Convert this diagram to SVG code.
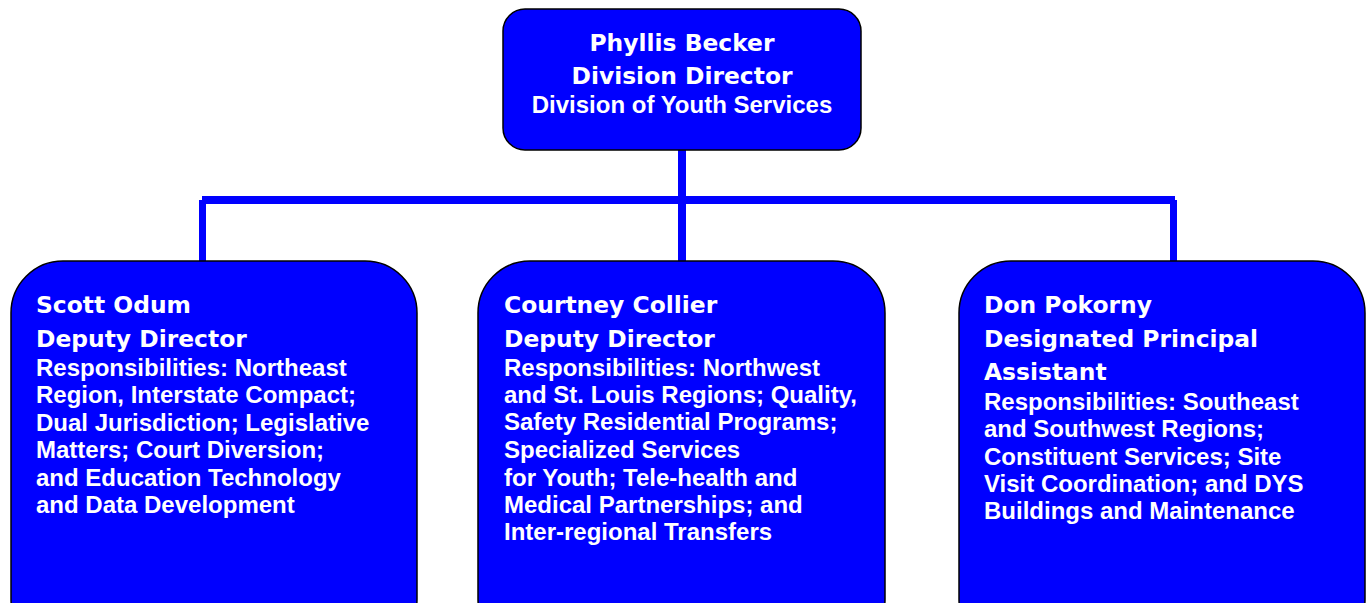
<svg xmlns="http://www.w3.org/2000/svg" width="1368" height="603" viewBox="0 0 1368 603">
<style>
.box{fill:#0000FF;stroke:#000;stroke-width:1.5}
.conn{fill:#0000FF}
.hd{font-family:"DejaVu Sans",Verdana,sans-serif;font-weight:bold;font-size:23.4px;fill:#fff}
.bd{font-family:"Liberation Sans",Arial,sans-serif;font-weight:bold;font-size:24px;fill:#fff}
</style>
<rect width="1368" height="603" fill="#fff"/>
<g id="connectors">
<rect class="conn" x="678" y="150" width="8" height="111"/>
<rect class="conn" x="202" y="196" width="973" height="8"/>
<rect class="conn" x="199" y="200" width="7" height="61"/>
<rect class="conn" x="1170" y="200" width="7" height="61"/>
</g>
<g id="director">
<rect class="box" x="503" y="9" width="358" height="141" rx="22"/>
<text class="hd" x="682" y="51" text-anchor="middle">Phyllis Becker</text>
<text class="hd" x="682" y="84" text-anchor="middle">Division Director</text>
<text class="bd" x="682" y="113" text-anchor="middle">Division of Youth Services</text>
</g>
<g id="odum">
<rect class="box" x="11" y="261" width="406" height="390" rx="52"/>
<text class="hd" x="36" y="313">Scott Odum</text>
<text class="hd" x="36" y="347">Deputy Director</text>
<text class="bd" x="36" y="376">Responsibilities: Northeast</text>
<text class="bd" x="36" y="403">Region, Interstate Compact;</text>
<text class="bd" x="36" y="431">Dual Jurisdiction; Legislative</text>
<text class="bd" x="36" y="458">Matters; Court Diversion;</text>
<text class="bd" x="36" y="486">and Education Technology</text>
<text class="bd" x="36" y="513">and Data Development</text>
</g>
<g id="collier">
<rect class="box" x="478" y="261" width="407" height="390" rx="52"/>
<text class="hd" x="504" y="313">Courtney Collier</text>
<text class="hd" x="504" y="347">Deputy Director</text>
<text class="bd" x="504" y="376">Responsibilities: Northwest</text>
<text class="bd" x="504" y="403">and St. Louis Regions; Quality,</text>
<text class="bd" x="504" y="430">Safety Residential Programs;</text>
<text class="bd" x="504" y="458">Specialized Services</text>
<text class="bd" x="504" y="486">for Youth; Tele-health and</text>
<text class="bd" x="504" y="513">Medical Partnerships; and</text>
<text class="bd" x="504" y="540">Inter-regional Transfers</text>
</g>
<g id="pokorny">
<rect class="box" x="959" y="261" width="406" height="390" rx="52"/>
<text class="hd" x="984" y="313">Don Pokorny</text>
<text class="hd" x="984" y="347">Designated Principal</text>
<text class="hd" x="984" y="380">Assistant</text>
<text class="bd" x="984" y="410">Responsibilities: Southeast</text>
<text class="bd" x="984" y="437">and Southwest Regions;</text>
<text class="bd" x="984" y="465">Constituent Services; Site</text>
<text class="bd" x="984" y="492">Visit Coordination; and DYS</text>
<text class="bd" x="984" y="519">Buildings and Maintenance</text>
</g>
</svg>
